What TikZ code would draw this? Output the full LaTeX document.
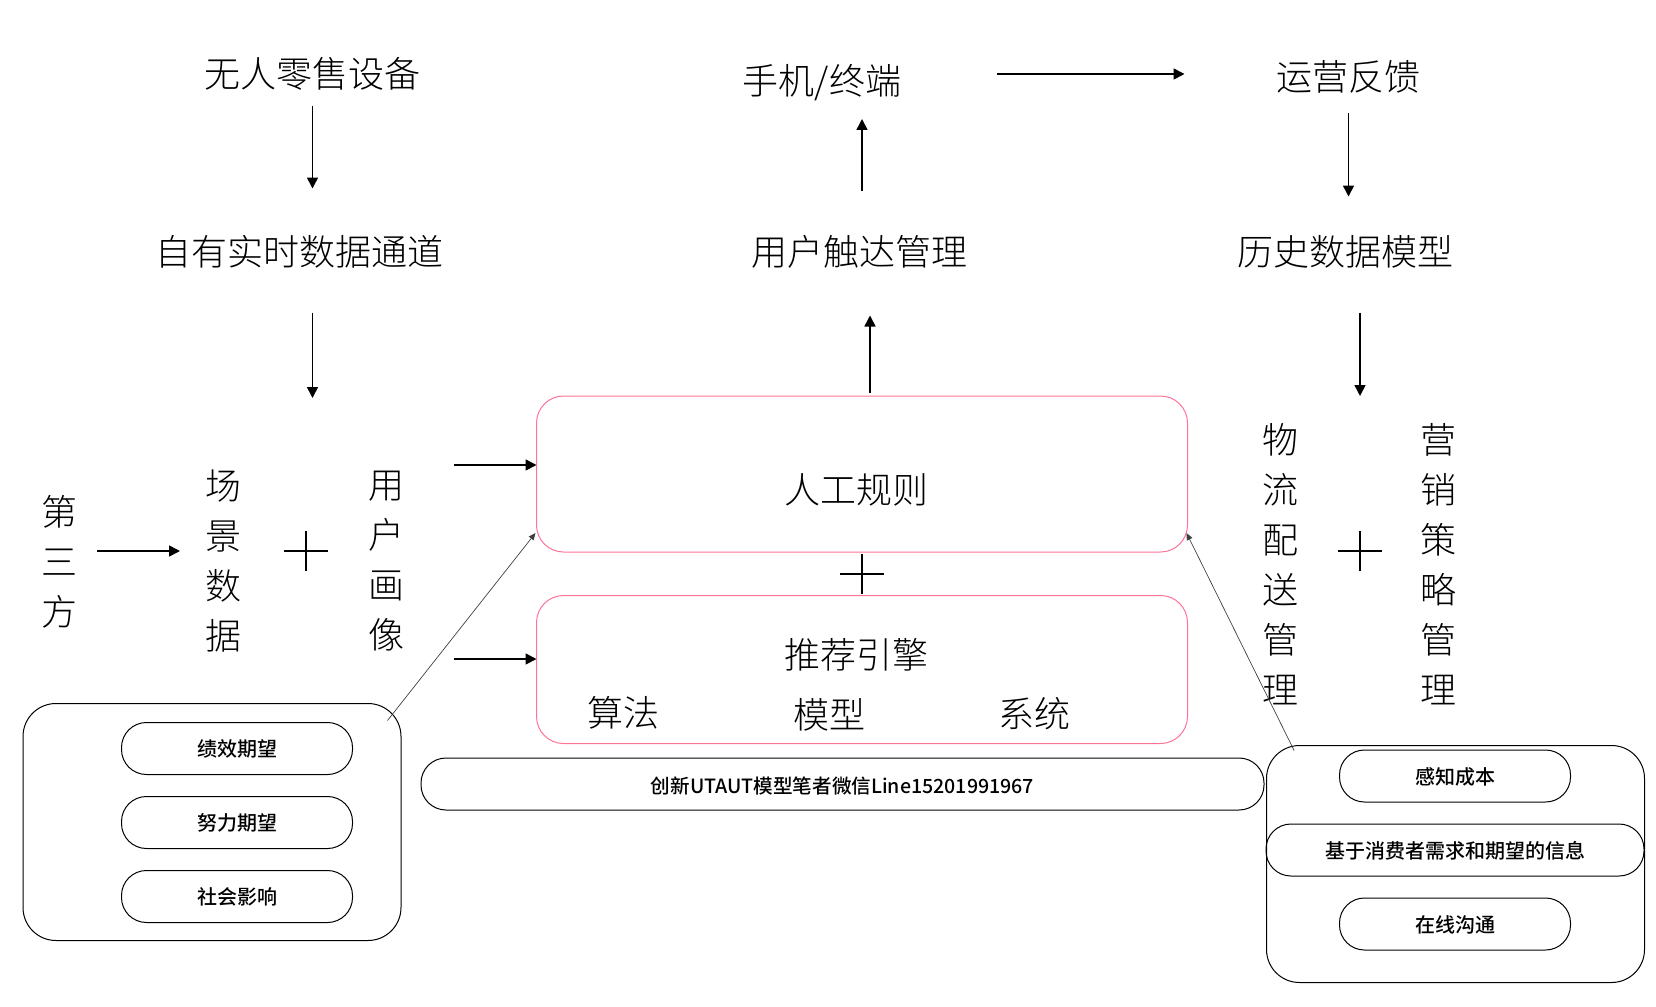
\documentclass[tikz,border=0pt]{standalone}
\usepackage{fontspec}
\setmainfont{Noto Sans CJK SC Medium}
\newfontfamily\thincjk{Noto Sans CJK SC Light}
\usetikzlibrary{positioning,arrows.meta}
\definecolor{rosepink}{RGB}{255,115,150}
\begin{document}
\begin{tikzpicture}[x=1pt,y=-1pt,node distance=22pt]
    \tikzstyle{every node}=[inner sep=0pt,outer sep=0pt]
    \tikzset{bigtext/.style={font=\thincjk\fontsize{36}{50}\selectfont,align=center}}
    \tikzset{pilltext/.style={draw=black,line width=1pt,font=\fontsize{20}{24}\selectfont,
                              rounded corners=25pt,minimum height=52pt,minimum width=231pt,
                              text height=16pt,text depth=0pt}}
    \tikzset{panel/.style={draw=black,line width=1pt,rounded corners=33pt}}
    \tikzset{engine/.style={draw=rosepink,line width=1pt,rounded corners=27pt,
                            minimum width=651pt}}
    \tikzset{edgestyle/.style={line width=1.6pt,-{Triangle[length=11pt,width=11pt]}}}
    \tikzset{thinedge/.style={line width=.7pt,draw=black!75,-{Triangle[length=7pt,width=6pt]}}}
    \tikzset{plusbar/.style={line width=1.6pt}}

    \useasboundingbox (0,0) rectangle (1656,1006);

    \node[bigtext] (wuren) at (312.5,74)    {无人零售设备};
    \node[bigtext] (ziyou) at (299,251.5)   {自有实时数据通道};
    \node[bigtext] (shouji) at (822,83)   {手机/终端};
    \node[bigtext] (chuda) at (859.5,251.5)   {用户触达管理};
    \node[bigtext] (yunying) at (1348.5,77) {运营反馈};
    \node[bigtext] (lishi) at (1345,251.5)  {历史数据模型};

    \node[bigtext] (disan) at (59,562)    {第\\三\\方};
    \node[bigtext] (changjing) at (223,561) {场\\景\\数\\据};
    \node[bigtext] (huaxiang) at (386,561)  {用\\户\\画\\像};
    \node[bigtext] (wuliu) at (1280,564)  {物\\流\\配\\送\\管\\理};
    \node[bigtext] (yingxiao) at (1438,564) {营\\销\\策\\略\\管\\理};

    \node[engine,minimum height=156pt] (guize) at (862,474) {};
    \node[engine,minimum height=148pt] (tuijian) at (862,669.5) {};
    \node[bigtext] (guizetext) at (856,489.5) {人工规则};
    \node[bigtext] (tuijiantext) at (856,655) {推荐引擎};
    \node[bigtext] (suanfa) at (623.5,713)  {算法};
    \node[bigtext] (moxing) at (829,715)  {模型};
    \node[bigtext] (xitong) at (1034,714) {系统};

    \node[pilltext,minimum width=843pt,text height=19pt] (utaut) at (842.5,784)
        {\fontsize{19.6}{24}\selectfont 创新UTAUT模型笔者微信Line15201991967};

    \node[panel,minimum width=378pt,minimum height=237pt] (leftbox) at (212,822) {};
    \node[pilltext] (jixiao) at (237,748.5)    {绩效期望};
    \node[pilltext] (nuli) [below = 22pt of jixiao]   {努力期望};
    \node[pilltext] (shehui) [below = 22pt of nuli]   {社会影响};

    \node[panel,minimum width=378pt,minimum height=237pt] (rightbox) at (1455.5,864) {};
    \node[pilltext] (ganzhi) at (1455,776)   {感知成本};
    \node[pilltext,minimum width=378pt] (jiyu) [below = 22pt of ganzhi] {基于消费者需求和期望的信息};
    \node[pilltext] (zaixian) [below = 22pt of jiyu]  {在线沟通};

    % the plus signs
    \coordinate (plusa) at (306,551);
    \coordinate (plusb) at (862,574);
    \coordinate (plusc) at (1360,551);
    \foreach \p in {plusa,plusb,plusc}
        \draw[plusbar] ([xshift=-22pt]\p) -- ([xshift=22pt]\p)
                       ([yshift=-20pt]\p) -- ([yshift=20pt]\p);

    \draw[edgestyle,shorten <=31.6pt,shorten >=63pt] (wuren.center) -- (wuren.center |- ziyou.center);
    \draw[edgestyle,shorten <=61pt,shorten >=163pt] (wuren.center |- ziyou.center) -- (wuren.center |- huaxiang.center);
    \draw[edgestyle,shorten <=61pt,shorten >=36pt] (guize.center |- chuda.center) -- (guize.center |- shouji.center);
    \draw[edgestyle,shorten <=3pt,shorten >=64pt] ([xshift=8pt]guize.north) -- ([xshift=8pt]guize.north |- chuda.center);
    \draw[edgestyle,shorten <=175pt,shorten >=164pt] ([yshift=9pt]shouji.center) -- ([yshift=9pt]shouji.center -| yunying.center);
    \draw[edgestyle,shorten <=36pt,shorten >=55pt] (yunying.center) -- (yunying.center |- lishi.center);
    \draw[edgestyle,shorten <=61pt,shorten >=155pt] (plusc |- lishi.center) -- (plusc);

    \draw[edgestyle,shorten <=68pt] ([yshift=96pt]huaxiang.center) -- ([yshift=96pt]huaxiang.center -| guize.west);
    \draw[edgestyle,shorten <=68pt] ([yshift=-98pt]huaxiang.center) -- ([yshift=-98pt]huaxiang.center -| tuijian.west);
    \draw[edgestyle,shorten <=38pt,shorten >=43pt] ([yshift=11pt]disan.center) -- ([yshift=11pt]disan.center -| changjing.center);

    \draw[thinedge] ([xshift=-13.5pt,yshift=-17pt]leftbox.north east) -- ([xshift=-1pt,yshift=19pt]guize.south west);
    \draw[thinedge] ([xshift=27.6pt,yshift=-5pt]rightbox.north west) -- ([xshift=-1pt,yshift=19pt]guize.south east);
\end{tikzpicture}
\end{document}
